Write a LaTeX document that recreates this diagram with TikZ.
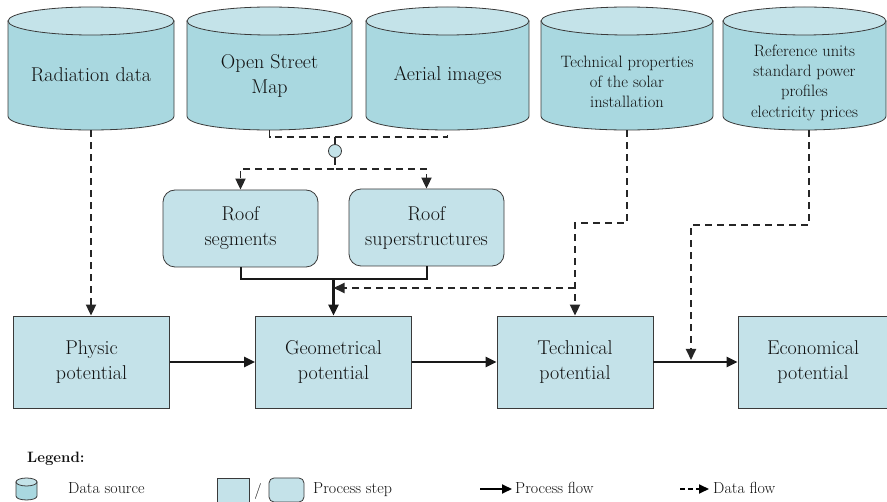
\documentclass[tikz,border=0pt]{standalone}
\usetikzlibrary{arrows.meta,calc}
\definecolor{cylside}{HTML}{A9D8E0}
\definecolor{cyltop}{HTML}{C4E3E9}
\definecolor{boxfill}{HTML}{C4E2E9}
\definecolor{edge}{HTML}{3A3A3A}
\definecolor{txt}{HTML}{111111}
\tikzset{
 procbox/.style={draw=edge, line width=0.8pt, fill=boxfill, minimum width=156pt, minimum height=92pt, inner sep=0pt, align=center, font=\fontsize{20}{25}\selectfont, text=txt},
 roofbox/.style={procbox, rounded corners=12pt, minimum width=155pt, minimum height=77pt},
 cyltext/.style={align=center, text=txt, inner sep=0pt},
 bigtext/.style={font=\fontsize{20}{25}\selectfont},
 smalltext/.style={font=\fontsize{16.5}{20.3}\selectfont},
 legtext/.style={font=\fontsize{16}{19}\selectfont, text=txt, inner sep=0pt, anchor=base west},
 dline/.style={dash pattern=on 7pt off 5pt, line width=1.8pt, draw=black!85},
 dflow/.style={dline, -{Triangle[length=11pt,width=10pt]}},
 pline/.style={line width=2pt, draw=black!90},
 pflow/.style={line width=2.2pt, draw=black!90, -{Triangle[length=11pt,width=10pt]}},
 cylline/.style={draw=edge, line width=0.8pt}
}
\newcommand\datasrc[6]{%
 \pgfmathsetmacro\cxx{(#2+#3)/2}%
 \pgfmathsetmacro\rxx{(#3-#2)/2}%
 \pgfmathsetmacro\wdd{#3-#2}%
 \filldraw[fill=cylside, cylline] (#2,21) -- (#2,116) .. controls (#2,134.67) and (#3,134.67) .. (#3,116) -- (#3,21) -- cycle;
 \filldraw[fill=cyltop, cylline] (\cxx,21) ellipse [x radius=\rxx, y radius=14];
 \node[inner sep=0pt, minimum width=\wdd pt, minimum height=123pt] (#1) at (\cxx,68.5) {};
 \node[cyltext, #5] (#1-t) at (\cxx,#4) {#6};
}
\begin{document}
\begin{tikzpicture}[x=1pt,y=-1pt]
\useasboundingbox (0,0) rectangle (887,502);
\fill[white] (0,0) rectangle (887,502);

% data sources
\datasrc{rad}{8}{174}{75}{bigtext}{Radiation data}
\datasrc{osm}{187}{352}{75.5}{bigtext}{Open Street\\Map}
\datasrc{aer}{366}{529}{75}{bigtext}{Aerial images}
\datasrc{tp}{541}{713}{82}{smalltext}{Technical properties\\of the solar\\installation}
\datasrc{ru}{723}{886}{82.5}{smalltext}{Reference units\\standard power\\profiles\\electricity prices}

% roof steps
\node[roofbox] (rseg) at (240.5,228.5) {Roof\\segments};
\node[roofbox] (rsup) at (426.5,227.5) {Roof\\superstructures};

% potentials
\node[procbox] (phys) at (91.5,362) {Physic\\potential};
\node[procbox] (geo) at (333.5,362) {Geometrical\\potential};
\node[procbox] (tech) at (575,362) {Technical\\potential};
\node[procbox, minimum width=150pt] (econ) at (813,362) {Economical\\potential};

% merge of OSM and aerial images
\coordinate (j1) at (335,137);
\draw[dline] (osm.south) |- (j1) -| (aer.south);
\node[circle, draw=edge, fill=cyltop, line width=0.8pt, minimum size=13pt, inner sep=0pt] (merge) at (335,151) {};
\draw[line width=1.8pt, draw=black!85] (j1) -- (merge.north);
\draw[dflow] (merge.south) -- ++(0,11) -| (rseg.north);
\draw[dflow] (merge.south) -- ++(0,11) -| (rsup.north);

% roof results to geometrical potential
\coordinate (j2) at (333.5,279);
\draw[pline] (rseg.south) |- (j2) -| (rsup.south);
\draw[pflow] (j2) -- (geo.north);

% radiation data
\draw[dflow] (rad.south) -- (rad.south |- phys.north);

% technical properties
\coordinate (j3) at (575,223);
\coordinate (j4) at (575,288);
\draw[dflow] (tp.south) |- (j3) -- (tech.north);
\draw[dflow] (j4) -- (j4 -| j2);

% reference units
\coordinate (rub) at ([xshift=4.5pt]ru.south);
\coordinate (j5) at (691,225);
\coordinate (j6) at (691,360);
\draw[dflow] (rub) |- (j5) -- (j6);

% process flow
\draw[pflow] (phys) -- (geo);
\draw[pflow] (geo) -- (tech);
\draw[pflow] (tech) -- (econ);

% legend
\node[font=\bfseries\fontsize{15}{18}\selectfont, text=txt, anchor=base west, inner sep=0pt] (leg) at (27,463) {Legend:};
\filldraw[fill=cylside, cylline] (16,482) -- (16,496) .. controls (16,501.3) and (37,501.3) .. (37,496) -- (37,482) -- cycle;
\filldraw[fill=cyltop, cylline] (26.5,482) ellipse [x radius=10.5, y radius=4];
\node[legtext] (lds) at (68,494) {Data source};
\node[draw=edge, fill=boxfill, line width=0.8pt, minimum width=32pt, minimum height=24pt, inner sep=0pt] (lbox1) at (233,490) {};
\node[font=\fontsize{16}{19}\selectfont, text=txt, inner sep=0pt] (lslash) at (258,492) {/};
\node[draw=edge, fill=boxfill, line width=0.8pt, rounded corners=5pt, minimum width=35pt, minimum height=24pt, inner sep=0pt] (lbox2) at (286.5,490) {};
\node[legtext] (lps) at (313,494) {Process step};
\coordinate (pa1) at (480,489);
\coordinate (pa2) at (512,489);
\draw[line width=2pt, -{Triangle[length=10pt,width=9pt]}] (pa1) -- (pa2);
\node[legtext] (lpf) at (515,494) {Process flow};
\coordinate (da1) at (680,489);
\coordinate (da2) at (709,489);
\draw[line width=1.8pt, dash pattern=on 5pt off 3pt, -{Triangle[length=10pt,width=9pt]}] (da1) -- (da2);
\node[legtext] (ldf) at (713,494) {Data flow};
\end{tikzpicture}
\end{document}
